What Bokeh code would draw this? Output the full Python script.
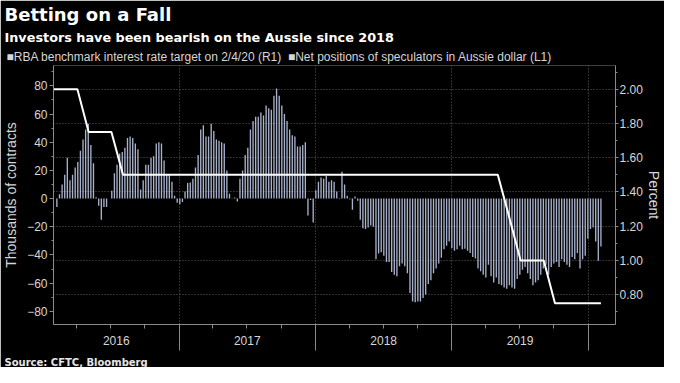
import pandas as pd
from bokeh.plotting import figure
from bokeh.models import (Range1d, LinearAxis, FixedTicker, SingleIntervalTicker, Grid,
                          Title, PrintfTickFormatter, CustomJSTickFormatter, ColumnDataSource)
from bokeh.embed import file_html
from bokeh.resources import INLINE

# ---- data ----
# Net positions of speculators in Aussie dollar, thousands of contracts, weekly from 2016-02-09
positions = [
    -6, 3, 10, 17, 29, 13, 17, 22, 26, 34,
    42, 49, 53, 38, 25, 1, -5, -15, -6, -6,
    0, 5.5, 18, 24, 32, 33, 36, 43, 44, 43,
    39, 35, 6.5, 13, 24, 24, 29, 30, 39, 40,
    39, 27, 17, 17, 12, 2, -3, -4, -2.5, 5,
    11, 11.5, 14, 22, 31, 49, 52, 44, 44, 53,
    48, 42, 41, 40, 39, 20, 3.5, 0.3, 0.8, -2,
    14, 20, 31, 36, 49, 55, 58, 58, 61, 59,
    66, 64, 63, 73, 78, 73, 66, 60, 55, 49,
    45, 44, 37, 37, 38, 40, -12, -1, -17, 6,
    12, 15, 14, 16, 12, 13, 12, 5, 0.5, 19,
    10, 2, -0.5, -8, 1.5, -1.5, -15, -21, -21.5, -20.5,
    -19, -20, -43, -39, -38, -40.5, -45, -45, -52, -54,
    -55, -48, -46, -48, -53, -67, -73, -73.5, -73, -73,
    -70.5, -68, -60.5, -58, -53, -49.5, -46, -42, -36, -33.5,
    -30.5, -35, -37, -36, -33.5, -36, -35.5, -37, -38.5, -41.5,
    -42.5, -49.5, -51.5, -54, -56, -47, -55, -59.5, -56, -60.5,
    -61.5, -63, -64, -61.5, -63, -64, -57, -54, -50.5, -48.5,
    -53, -57, -61.5, -59.5, -58, -54, -49.5, -47, -54, -48.5,
    -46, -45, -48.5, -43, -45, -47, -48.5, -41.5, -43, -38.5,
    -49.5, -43, -40.5, -28.5, -21.5, -20.5, -30.5, -44, -34,
]
positions_start = "2016-02-09"

# RBA cash rate target, percent, monthly (4th of each month) from 2016-01-04
rate_values = [
    2.00, 2.00, 2.00, 2.00, 1.75, 1.75, 1.75, 1.50, 1.50, 1.50, 1.50, 1.50,   # 2016
    1.50, 1.50, 1.50, 1.50, 1.50, 1.50, 1.50, 1.50, 1.50, 1.50, 1.50, 1.50,   # 2017
    1.50, 1.50, 1.50, 1.50, 1.50, 1.50, 1.50, 1.50, 1.50, 1.50, 1.50, 1.50,   # 2018
    1.50, 1.50, 1.50, 1.50, 1.50, 1.25, 1.00, 1.00, 1.00, 0.75, 0.75, 0.75,   # 2019
    0.75, 0.75,                                                               # 2020
]
rate_start = "2016-01-04"

year_breaks = [2017, 2018, 2019, 2020]

title_text = "Betting on a Fall"
subtitle_text = "Investors have been bearish on the Aussie since 2018"
rate_label = "RBA benchmark interest rate target on 2/4/20 (R1)"
pos_label = "Net positions of speculators in Aussie dollar (L1)"
source_text = "Source: CFTC, Bloomberg"

# ---- sources ----
pos_dates = pd.date_range(positions_start, periods=len(positions), freq="7D")
rate_dates = pd.date_range(rate_start, periods=len(rate_values), freq=pd.DateOffset(months=1))
pos_src = ColumnDataSource(dict(date=pos_dates, net=positions))
rate_src = ColumnDataSource(dict(date=rate_dates, rate=rate_values))

x_start = pd.Timestamp("2016-01-31")
x_end = pd.Timestamp("2020-03-14")

def ms(ts):
    return pd.Timestamp(ts).value / 1e6

BG = "#000000"
AXIS = "#8a8a8a"
TICKTXT = "#d6d6d6"
GRID = "#5e5e5e"
BAR = "#a9b2cc"
FONT = "Liberation Sans"

p = figure(width=664, height=367, x_range=Range1d(ms(x_start), ms(x_end)),
           y_range=Range1d(-89.3, 94.4), x_axis_type=None,
           output_backend="svg", toolbar_location=None, title=None,
           background_fill_color=BG, border_fill_color=BG, outline_line_color=None,
           min_border_left=44, min_border_right=40, min_border_top=0, min_border_bottom=0)
p.extra_y_ranges = {"rate": Range1d(0.6255, 2.139)}
p.grid.visible = False   # default grid off; dotted grids added below

# ---- grids ----
break_ms = [ms(f"{y}-01-01") for y in year_breaks]
p.add_layout(Grid(dimension=0, ticker=FixedTicker(ticks=break_ms),
                  grid_line_color=GRID, grid_line_dash="1 2", grid_line_width=1))
rate_ticker = SingleIntervalTicker(interval=0.2, num_minor_ticks=2)
p.add_layout(Grid(dimension=1, ticker=rate_ticker, y_range_name="rate",
                  grid_line_color=GRID, grid_line_dash="1 2", grid_line_width=1))

# ---- glyphs ----
bars = p.vbar(x="date", top="net", bottom=0, width=3.6 * 86400000, source=pos_src,
              fill_color=BAR, line_color=None)
p.line(x="date", y="rate", source=rate_src, y_range_name="rate",
       line_color="white", line_width=2)

def style_axis(ax):
    ax.axis_line_color = AXIS
    ax.major_tick_line_color = AXIS
    ax.minor_tick_line_color = AXIS
    ax.major_label_text_color = TICKTXT
    ax.major_label_text_font = FONT
    ax.major_label_text_font_size = "12px"
    ax.axis_label_text_color = TICKTXT
    ax.axis_label_text_font = FONT
    ax.axis_label_text_font_size = "14px"
    ax.axis_label_text_font_style = "normal"

# left axis
ya = p.yaxis[0]
ya.ticker = SingleIntervalTicker(interval=20, num_minor_ticks=2)
ya.axis_label = "Thousands of contracts"
style_axis(ya)
ya.major_tick_out = 4
ya.major_tick_in = 0
ya.minor_tick_out = 2
ya.minor_tick_in = 0
ya.major_label_standoff = 2
ya.axis_label_standoff = 5

# right axis
ra = LinearAxis(y_range_name="rate", ticker=rate_ticker,
                formatter=PrintfTickFormatter(format="%.2f"), axis_label="Percent")
style_axis(ra)
ra.major_tick_out = 3
ra.major_tick_in = 0
ra.minor_tick_out = 2
ra.minor_tick_in = 0
ra.major_label_standoff = 1
ra.axis_label_standoff = 0
p.add_layout(ra, "right")

# bottom axis with year labels centred in each year
span_starts = [x_start] + [pd.Timestamp(f"{y}-01-01") for y in year_breaks[:-1]]
span_ends = [pd.Timestamp(f"{y}-01-01") for y in year_breaks]
mid_ms = [(ms(a) + ms(b)) / 2 for a, b in zip(span_starts, span_ends)]
quarters = pd.date_range("2016-04-01", "2020-01-01", freq="QS")
xa = LinearAxis(ticker=FixedTicker(ticks=mid_ms, minor_ticks=[ms(q) for q in quarters]),
                formatter=CustomJSTickFormatter(code="return String(new Date(tick).getUTCFullYear());"))
style_axis(xa)
xa.major_tick_out = 0
xa.major_tick_in = 0
xa.minor_tick_out = 4
xa.minor_tick_in = 0
xa.major_label_standoff = 7
p.add_layout(xa, "below")

# year separators below the axis
xb = LinearAxis(ticker=FixedTicker(ticks=break_ms, minor_ticks=[]),
                formatter=CustomJSTickFormatter(code="return ' ';"))
xb.axis_line_color = None
xb.major_tick_line_color = AXIS
xb.major_tick_in = 24
xb.major_tick_out = 3
xb.major_label_text_font_size = "1px"
xb.major_label_standoff = 0
p.add_layout(xb, "below")

src = Title(text=source_text, text_font="DejaVu Sans", text_font_style="bold",
            text_font_size="10px", text_color="#e6e6e6", align="left", offset=-49, standoff=0)
p.add_layout(src, "below")

# ---- key line, titles ----
key = Title(text="\u25a0" + rate_label + "\u00a0\u00a0\u25a0" + pos_label,
            text_font=FONT, text_font_style="normal", text_font_size="12px",
            text_color=TICKTXT, align="left", offset=-47, standoff=3)
p.add_layout(key, "above")
sub = Title(text=subtitle_text, text_font="DejaVu Sans", text_font_style="bold",
            text_font_size="12.8px", text_color="white", align="left", offset=-49, standoff=4)
p.add_layout(sub, "above")
main = Title(text=title_text, text_font="DejaVu Sans", text_font_style="bold",
             text_font_size="18px", text_color="white", align="left", offset=-49, standoff=2)
p.add_layout(main, "above")

open("out.html", "w").write(file_html(p, INLINE))
